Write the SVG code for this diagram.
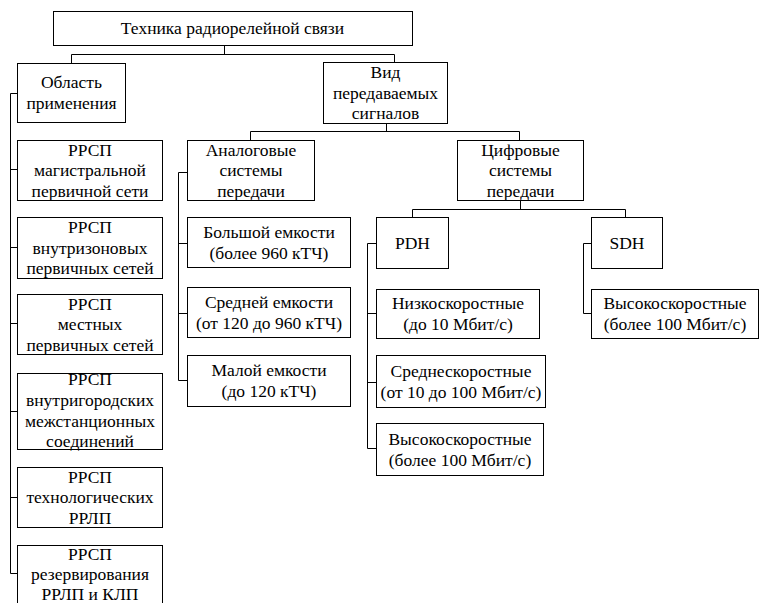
<svg xmlns="http://www.w3.org/2000/svg" width="760" height="603" viewBox="0 0 760 603">
<style>
.b{fill:#fff;stroke:#000;stroke-width:1}
.c{fill:none;stroke:#000;stroke-width:1}
.t{font-family:'Liberation Serif','DejaVu Serif',serif;font-size:17.5px;fill:#000;text-anchor:middle}
</style>
<rect width="760" height="603" fill="#fff"/>
<g id="connectors">
<path class="c" d="M224.5 45V54.5M71.5 54.5H394.5M71.5 54.5V63M394.5 54.5V62"/>
<path class="c" d="M10.5 93.5V573.5M10.5 93.5H17M10.5 169.5H17M10.5 247.5H17M10.5 323.5H17M10.5 411.5H17M10.5 497.5H17M10.5 573.5H17"/>
<path class="c" d="M386.5 123V131.5M250.5 131.5H519.5M250.5 131.5V140M519.5 131.5V140"/>
<path class="c" d="M178.5 172.5V380.5M178.5 172.5H187M178.5 243.5H187M178.5 313.5H187M178.5 380.5H187"/>
<path class="c" d="M520.5 200V209.5M412.5 209.5H625.5M412.5 209.5V217M625.5 209.5V217"/>
<path class="c" d="M367.5 243.5V448.5M367.5 243.5H376M367.5 313.5H376M367.5 382.5H376M367.5 448.5H376"/>
<path class="c" d="M583.5 243.5V313.5M583.5 243.5H591M583.5 313.5H591"/>
</g>
<g class="t" font-family="Liberation Serif, DejaVu Serif, serif">
<g id="root"><rect class="b" x="53.5" y="11.5" width="359" height="34"/><text x="232.5" y="34">Техника радиорелейной связи</text></g>
<g id="oblast"><rect class="b" x="17.5" y="63.5" width="108" height="59"/><text><tspan x="71.5" y="88">Область</tspan><tspan x="71.5" y="109">применения</tspan></text></g>
<g id="vid"><rect class="b" x="323.5" y="62.5" width="124" height="61"/><text><tspan x="385.5" y="78">Вид</tspan><tspan x="385.5" y="98.5">передаваемых</tspan><tspan x="385.5" y="119">сигналов</tspan></text></g>
<g id="rrsp1"><rect class="b" x="17.5" y="140.5" width="145" height="60"/><text><tspan x="90" y="155.5">РРСП</tspan><tspan x="90" y="176">магистральной</tspan><tspan x="90" y="196.5">первичной сети</tspan></text></g>
<g id="rrsp2"><rect class="b" x="17.5" y="217.5" width="145" height="61"/><text><tspan x="90" y="233">РРСП</tspan><tspan x="90" y="253.5">внутризоновых</tspan><tspan x="90" y="274">первичных сетей</tspan></text></g>
<g id="rrsp3"><rect class="b" x="17.5" y="294.5" width="145" height="60"/><text><tspan x="90" y="309.5">РРСП</tspan><tspan x="90" y="330">местных</tspan><tspan x="90" y="350.5">первичных сетей</tspan></text></g>
<g id="rrsp4"><rect class="b" x="17.5" y="373.5" width="145" height="76"/><text><tspan x="90" y="385">РРСП</tspan><tspan x="90" y="406">внутригородских</tspan><tspan x="90" y="427">межстанционных</tspan><tspan x="90" y="447">соединений</tspan></text></g>
<g id="rrsp5"><rect class="b" x="17.5" y="467.5" width="145" height="60"/><text><tspan x="90" y="482.5">РРСП</tspan><tspan x="90" y="503">технологических</tspan><tspan x="90" y="523.5">РРЛП</tspan></text></g>
<g id="rrsp6"><rect class="b" x="17.5" y="545.5" width="145" height="60"/><text><tspan x="90" y="560">РРСП</tspan><tspan x="90" y="580">резервирования</tspan><tspan x="90" y="600">РРЛП и КЛП</tspan></text></g>
<g id="analog"><rect class="b" x="187.5" y="140.5" width="127" height="60"/><text><tspan x="251" y="155.5">Аналоговые</tspan><tspan x="251" y="176">системы</tspan><tspan x="251" y="196.5">передачи</tspan></text></g>
<g id="big"><rect class="b" x="187.5" y="217.5" width="163" height="50"/><text><tspan x="269" y="238">Большой емкости</tspan><tspan x="269" y="258.5">(более 960 кТЧ)</tspan></text></g>
<g id="mid"><rect class="b" x="187.5" y="287.5" width="163" height="50"/><text><tspan x="269" y="308">Средней емкости</tspan><tspan x="269" y="328.5">(от 120 до 960 кТЧ)</tspan></text></g>
<g id="small"><rect class="b" x="187.5" y="355.5" width="163" height="51"/><text><tspan x="269" y="376">Малой емкости</tspan><tspan x="269" y="397">(до 120 кТЧ)</tspan></text></g>
<g id="digital"><rect class="b" x="457.5" y="140.5" width="126" height="60"/><text><tspan x="520.5" y="155.5">Цифровые</tspan><tspan x="520.5" y="176">системы</tspan><tspan x="520.5" y="196.5">передачи</tspan></text></g>
<g id="pdh"><rect class="b" x="376.5" y="217.5" width="72" height="51"/><text x="412.5" y="249">PDH</text></g>
<g id="sdh"><rect class="b" x="591.5" y="217.5" width="71" height="51"/><text x="627" y="249">SDH</text></g>
<g id="low"><rect class="b" x="376.5" y="289.5" width="163" height="49"/><text><tspan x="458" y="309">Низкоскоростные</tspan><tspan x="458" y="330">(до 10 Мбит/с)</tspan></text></g>
<g id="medium"><rect class="b" x="376.5" y="355.5" width="169" height="52"/><text><tspan x="461" y="377">Среднескоростные</tspan><tspan x="461" y="397.5">(от 10 до 100 Мбит/с)</tspan></text></g>
<g id="highpdh"><rect class="b" x="376.5" y="423.5" width="167" height="52"/><text><tspan x="460" y="445">Высокоскоростные</tspan><tspan x="460" y="465.5">(более 100 Мбит/с)</tspan></text></g>
<g id="highsdh"><rect class="b" x="591.5" y="289.5" width="167" height="49"/><text><tspan x="675" y="309">Высокоскоростные</tspan><tspan x="675" y="330">(более 100 Мбит/с)</tspan></text></g>
</g>
</svg>
